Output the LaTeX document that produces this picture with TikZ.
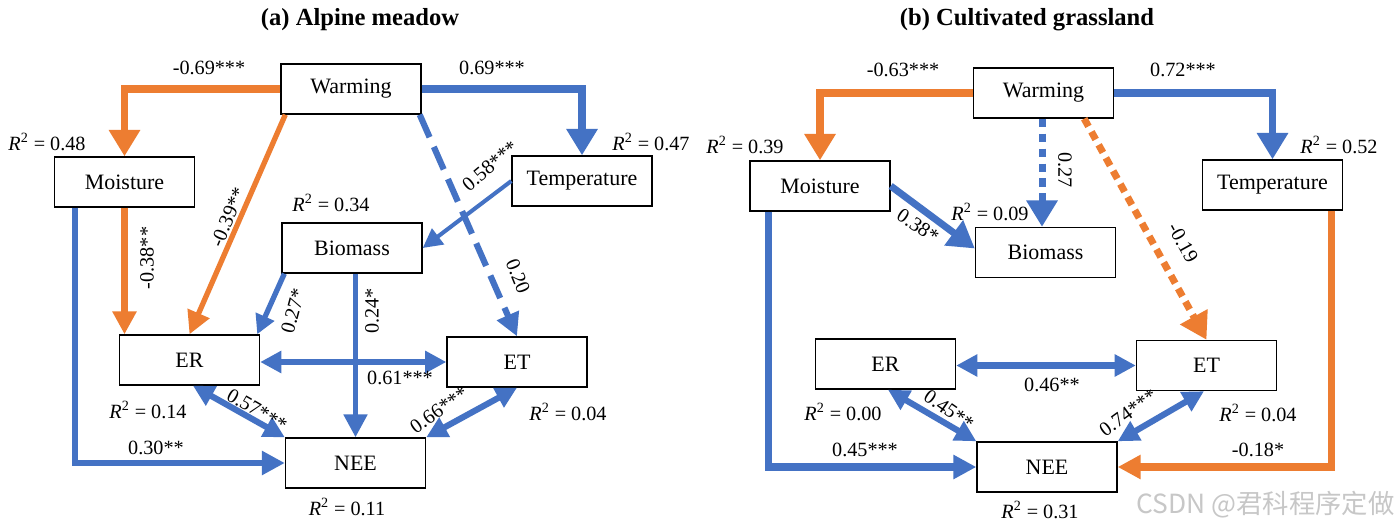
\documentclass[tikz,border=0pt]{standalone}
\usepackage{fontspec}
\setmainfont{Liberation Serif}
\newfontfamily\cjk{Noto Sans CJK SC}
\usetikzlibrary{arrows.meta,calc}
\definecolor{ob}{HTML}{ED7D31}
\definecolor{bb}{HTML}{4472C4}
\begin{document}
\begin{tikzpicture}[x=0.02cm,y=-0.02cm,
  box/.style={draw=black, line width=0.8pt, minimum width=2.8cm, minimum height=1cm, inner sep=0pt, fill=white, font=\fontsize{12.5}{14}\selectfont},
  lab/.style={font=\fontsize{11.5}{13}\selectfont, inner sep=0pt},
  ttl/.style={font=\fontsize{14}{16}\selectfont\bfseries, inner sep=0pt},
  oline/.style={draw=ob, line width=#1},
  bline/.style={draw=bb, line width=#1},
  big/.style={-{Triangle[length=15pt,width=17pt]}},
  med/.style={-{Triangle[length=13pt,width=13pt]}},
  sml/.style={-{Triangle[length=11pt,width=11pt]}},
  dbl/.style={{Triangle[length=12pt,width=12pt]}-{Triangle[length=12pt,width=12pt]}},
  longdash/.style={dash pattern=on 14pt off 6pt},
  dotline/.style={dash pattern=on 5pt off 3.5pt},
]
\useasboundingbox (0,0) rectangle (1399,527);
\fill[white] (0,0) rectangle (1399,527);

% ---------- panel (a) ----------
\node[ttl] (ta) at (360,20) {(a) Alpine meadow};
\node[box] (aW) at (351,89) {Warming};
\node[box] (aM) at (124.5,182) {Moisture};
\node[box] (aT) at (582,181) {Temperature};
\node[box] (aB) at (352,248) {Biomass};
\node[box] (aER) at (189.5,360) {ER};
\node[box] (aET) at (517,362) {ET};
\node[box] (aN) at (355.5,463) {NEE};

\coordinate (aWsw) at ($(aW.south west)+(5,0)$);
\coordinate (aWse) at ($(aW.south east)+(-2,0)$);
\coordinate (aMs) at ($(aM.south west)+(21,0)$);
\coordinate (aBsw) at ($(aB.south west)+(3,0)$);
\coordinate (aERne) at ($(aER.north east)+(-3,0)$);
\coordinate (aERs) at ($(aER.south)+(3.5,0)$);

\draw[oline=4pt,big] (aW.west) -| (aM.north);
\draw[bline=4.5pt,big] (aW.east) -| (aT.north);
\draw[oline=3pt,med] (aWsw) -- (aER.north);
\draw[oline=3.5pt,med] (aM.south) -- (aM.south |- aER.north);
\draw[bline=3.5pt,med] (aMs) |- (aN.west);
\draw[bline=3.5pt,longdash,med] (aWse) -- (aET.north);
\draw[bline=2.3pt,sml] (aT.west) -- (aB.east);
\draw[bline=3pt,sml] (aBsw) -- (aERne);
\draw[bline=3pt,med] (aN.north |- aB.south) -- (aN.north);
\draw[bline=3.5pt,dbl] (aER.east |- aET.west) -- (aET.west);
\draw[bline=3.5pt,dbl] (aERs) -- (aN.north west);
\draw[bline=3.5pt,dbl] (aET.south) -- (aN.north east);

\node[lab] (la1) at (209,68) {-0.69***};
\node[lab] (la2) at (492,68) {0.69***};
\node[lab] (la3) at (47,142) {\textit{R}\textsuperscript{2} = 0.48};
\node[lab] (la4) at (651,142) {\textit{R}\textsuperscript{2} = 0.47};
\node[lab] (la5) at (331,203) {\textit{R}\textsuperscript{2} = 0.34};
\node[lab,rotate=40] (la6) at (490,166) {0.58***};
\node[lab,rotate=67] (la7) at (228,217) {-0.39**};
\node[lab,rotate=90] (la8) at (147,258) {-0.38**};
\node[lab,rotate=75] (la9) at (293,311) {0.27*};
\node[lab,rotate=90] (la10) at (372,311) {0.24*};
\node[lab,rotate=-68] (la11) at (518,276) {0.20};
\node[lab] (la12) at (400,378) {0.61***};
\node[lab,rotate=-30] (la13) at (257,410) {0.57***};
\node[lab,rotate=35] (la14) at (439,410) {0.66***};
\node[lab] (la15) at (148,410) {\textit{R}\textsuperscript{2} = 0.14};
\node[lab] (la16) at (568,412) {\textit{R}\textsuperscript{2} = 0.04};
\node[lab] (la17) at (156,448) {0.30**};
\node[lab] (la18) at (347,507) {\textit{R}\textsuperscript{2} = 0.11};

% ---------- panel (b) ----------
\node[ttl] (tb) at (1027,20) {(b) Cultivated grassland};
\node[box] (bW) at (1043.5,93) {Warming};
\node[box] (bM) at (820,186) {Moisture};
\node[box] (bT) at (1272.5,185) {Temperature};
\node[box] (bB) at (1045.5,252.5) {Biomass};
\node[box] (bER) at (885.5,364) {ER};
\node[box] (bET) at (1206.5,365.5) {ET};
\node[box] (bN) at (1047,467) {NEE};

\coordinate (bWs) at ($(bW.south)+(-1.5,0)$);
\coordinate (bWse) at ($(bW.south east)+(-30,0)$);
\coordinate (bBw) at ($(bB.west)+(0,-4)$);
\coordinate (bTs) at ($(bT.south east)+(-12,0)$);
\coordinate (bMs) at ($(bM.south west)+(19,0)$);
\coordinate (bERs) at ($(bER.south)+(2.5,0)$);
\coordinate (bETs) at ($(bET.south)+(-2.5,0)$);

\draw[oline=4pt,big] (bW.west) -| (bM.north);
\draw[bline=4.5pt,big] (bW.east) -| (bT.north);
\draw[bline=4pt,dotline,big] (bWs) -- (bWs |- bB.north);
\draw[bline=4pt,big] (bM.east) -- (bBw);
\draw[oline=4pt,dotline,big] (bWse) -- (bET.north);
\draw[oline=4pt,med] (bTs) |- (bN.east);
\draw[bline=4pt,med] (bMs) |- (bN.west);
\draw[bline=3.5pt,dbl] (bER.east |- bET.west) -- (bET.west);
\draw[bline=3.5pt,dbl] (bERs) -- (bN.north west);
\draw[bline=3.5pt,dbl] (bETs) -- (bN.north east);

\node[lab] (lb1) at (903,70) {-0.63***};
\node[lab] (lb2) at (1183,70) {0.72***};
\node[lab] (lb3) at (745,145) {\textit{R}\textsuperscript{2} = 0.39};
\node[lab] (lb4) at (1339,145) {\textit{R}\textsuperscript{2} = 0.52};
\node[lab,rotate=-90] (lb5) at (1065,170) {0.27};
\node[lab] (lb6) at (990,212) {\textit{R}\textsuperscript{2} = 0.09};
\node[lab,rotate=-34] (lb7) at (918,226) {0.38*};
\node[lab,rotate=-61] (lb8) at (1183,243) {-0.19};
\node[lab] (lb9) at (1052,385) {0.46**};
\node[lab,rotate=-35] (lb10) at (949,410) {0.45**};
\node[lab,rotate=36] (lb11) at (1128,413) {0.74***};
\node[lab] (lb12) at (843,412) {\textit{R}\textsuperscript{2} = 0.00};
\node[lab] (lb13) at (1258,413) {\textit{R}\textsuperscript{2} = 0.04};
\node[lab] (lb14) at (865,450) {0.45***};
\node[lab] (lb15) at (1258,450) {-0.18*};
\node[lab] (lb16) at (1040,510) {\textit{R}\textsuperscript{2} = 0.31};

\node[inner sep=0pt, anchor=east, text=black!22, font=\cjk\fontsize{15}{17}\selectfont] (wm) at (1395,505) {CSDN @君科程序定做};
\end{tikzpicture}
\end{document}
